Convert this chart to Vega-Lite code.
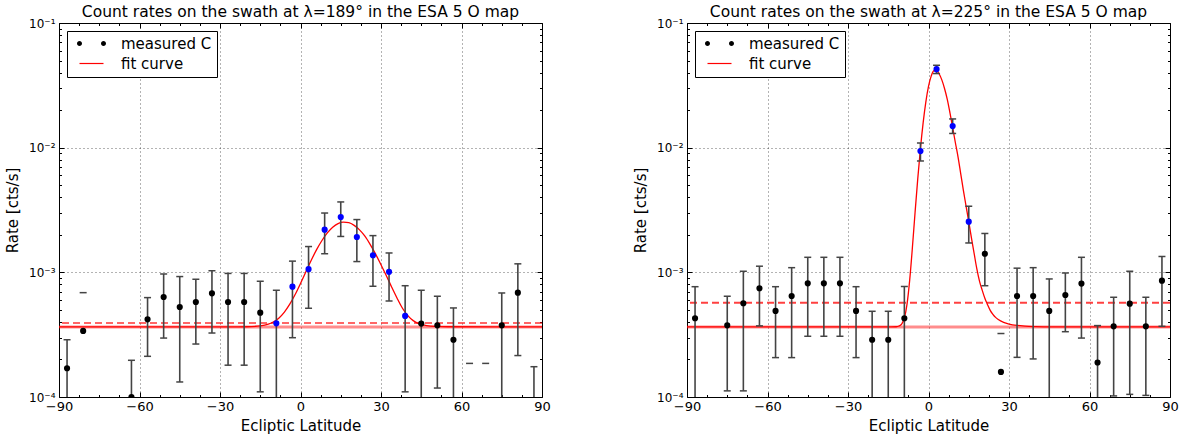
{
 "$schema": "https://vega.github.io/schema/vega-lite/v6.json",
 "background": "white",
 "padding": {"left": 5, "top": 4, "right": 5, "bottom": 5},
 "spacing": 82,
 "config": {
  "font": "DejaVu Sans",
  "view": {"stroke": "black", "strokeWidth": 1},
  "title": {"font": "DejaVu Sans", "fontSize": 15.5, "fontWeight": "normal", "color": "black", "offset": -3},
  "axis": {"labelFont": "DejaVu Sans", "titleFont": "DejaVu Sans", "labelColor": "black", "titleColor": "black", "titleFontWeight": "normal", "tickColor": "black"}
 },
 "resolve": {"scale": {"shape": "independent", "color": "independent", "fill": "independent", "stroke": "independent"}, "legend": {"shape": "independent", "color": "independent", "fill": "independent", "stroke": "independent"}},
 "datasets": {
  "levels": [
   {"panel": "L", "base": 0.000365, "dashed": 0.000393},
   {"panel": "R", "base": 0.000365, "dashed": 0.000571}
  ],
  "pts": [
   {"panel": "L", "lat": -87, "rate": 0.00017, "lo": 0.000052, "hi": 0.000288, "used": "no"},
   {"panel": "L", "lat": -81, "rate": 0.000339, "lo": null, "hi": 0.000687, "used": "no"},
   {"panel": "L", "lat": -63, "rate": 0.0001, "lo": 0.000003, "hi": 0.000197, "used": "no"},
   {"panel": "L", "lat": -57, "rate": 0.00042, "lo": 0.000212, "hi": 0.000627, "used": "no"},
   {"panel": "L", "lat": -51, "rate": 0.000634, "lo": 0.000297, "hi": 0.00097, "used": "no"},
   {"panel": "L", "lat": -45, "rate": 0.000527, "lo": 0.000132, "hi": 0.000925, "used": "no"},
   {"panel": "L", "lat": -39, "rate": 0.000578, "lo": 0.000266, "hi": 0.00088, "used": "no"},
   {"panel": "L", "lat": -33, "rate": 0.000679, "lo": 0.000326, "hi": 0.00103, "used": "no"},
   {"panel": "L", "lat": -27, "rate": 0.000578, "lo": 0.00018, "hi": 0.00098, "used": "no"},
   {"panel": "L", "lat": -21, "rate": 0.000578, "lo": 0.00018, "hi": 0.00098, "used": "no"},
   {"panel": "L", "lat": -15, "rate": 0.000475, "lo": 0.00011, "hi": 0.000848, "used": "no"},
   {"panel": "L", "lat": -9, "rate": 0.00039, "lo": 0.000062, "hi": 0.000718, "used": "yes"},
   {"panel": "L", "lat": -3, "rate": 0.000767, "lo": 0.000299, "hi": 0.00123, "used": "yes"},
   {"panel": "L", "lat": 3, "rate": 0.00106, "lo": 0.000515, "hi": 0.00161, "used": "yes"},
   {"panel": "L", "lat": 9, "rate": 0.0022, "lo": 0.00141, "hi": 0.00299, "used": "yes"},
   {"panel": "L", "lat": 15, "rate": 0.00278, "lo": 0.00194, "hi": 0.00367, "used": "yes"},
   {"panel": "L", "lat": 21, "rate": 0.00192, "lo": 0.00122, "hi": 0.00265, "used": "yes"},
   {"panel": "L", "lat": 27, "rate": 0.00137, "lo": 0.000773, "hi": 0.00197, "used": "yes"},
   {"panel": "L", "lat": 33, "rate": 0.00101, "lo": 0.000589, "hi": 0.00143, "used": "yes"},
   {"panel": "L", "lat": 39, "rate": 0.000447, "lo": 0.00011, "hi": 0.000781, "used": "yes"},
   {"panel": "L", "lat": 45, "rate": 0.000388, "lo": 0.000058, "hi": 0.000718, "used": "no"},
   {"panel": "L", "lat": 51, "rate": 0.000376, "lo": 0.000118, "hi": 0.000643, "used": "no"},
   {"panel": "L", "lat": 57, "rate": 0.000288, "lo": 0.000058, "hi": 0.000518, "used": "no"},
   {"panel": "L", "lat": 63, "rate": 0.00008, "lo": null, "hi": 0.000186, "used": "no"},
   {"panel": "L", "lat": 69, "rate": 0.00008, "lo": null, "hi": 0.000186, "used": "no"},
   {"panel": "L", "lat": 75, "rate": 0.000376, "lo": 0.000069, "hi": 0.000683, "used": "no"},
   {"panel": "L", "lat": 81, "rate": 0.000687, "lo": 0.000215, "hi": 0.00117, "used": "no"},
   {"panel": "L", "lat": 87, "rate": 0.000093, "lo": 0.000011, "hi": 0.000175, "used": "no"},
   {"panel": "R", "lat": -87, "rate": 0.000428, "lo": 0.000089, "hi": 0.000767, "used": "no"},
   {"panel": "R", "lat": -75, "rate": 0.000376, "lo": 0.000112, "hi": 0.000643, "used": "no"},
   {"panel": "R", "lat": -69, "rate": 0.000565, "lo": 0.000112, "hi": 0.00102, "used": "no"},
   {"panel": "R", "lat": -63, "rate": 0.000745, "lo": 0.000372, "hi": 0.00112, "used": "no"},
   {"panel": "R", "lat": -57, "rate": 0.00049, "lo": 0.000207, "hi": 0.000767, "used": "no"},
   {"panel": "R", "lat": -51, "rate": 0.000646, "lo": 0.000207, "hi": 0.00109, "used": "no"},
   {"panel": "R", "lat": -45, "rate": 0.000816, "lo": 0.000307, "hi": 0.00132, "used": "no"},
   {"panel": "R", "lat": -39, "rate": 0.000816, "lo": 0.000307, "hi": 0.00132, "used": "no"},
   {"panel": "R", "lat": -33, "rate": 0.000816, "lo": 0.000307, "hi": 0.00132, "used": "no"},
   {"panel": "R", "lat": -27, "rate": 0.00049, "lo": 0.000207, "hi": 0.000767, "used": "no"},
   {"panel": "R", "lat": -21, "rate": 0.000288, "lo": 0.000089, "hi": 0.000487, "used": "no"},
   {"panel": "R", "lat": -15, "rate": 0.000288, "lo": 0.000089, "hi": 0.000487, "used": "no"},
   {"panel": "R", "lat": -9, "rate": 0.000428, "lo": 0.000086, "hi": 0.00077, "used": "no"},
   {"panel": "R", "lat": -3, "rate": 0.00939, "lo": 0.00782, "hi": 0.0109, "used": "yes"},
   {"panel": "R", "lat": 3, "rate": 0.0426, "lo": 0.0393, "hi": 0.0458, "used": "yes"},
   {"panel": "R", "lat": 9, "rate": 0.0149, "lo": 0.013, "hi": 0.017, "used": "yes"},
   {"panel": "R", "lat": 15, "rate": 0.00255, "lo": 0.00172, "hi": 0.00339, "used": "yes"},
   {"panel": "R", "lat": 21, "rate": 0.00141, "lo": 0.000781, "hi": 0.00205, "used": "no"},
   {"panel": "R", "lat": 27, "rate": 0.000159, "lo": null, "hi": 0.000323, "used": "no"},
   {"panel": "R", "lat": 33, "rate": 0.000646, "lo": 0.000208, "hi": 0.00108, "used": "no"},
   {"panel": "R", "lat": 39, "rate": 0.000646, "lo": 0.000202, "hi": 0.00109, "used": "no"},
   {"panel": "R", "lat": 45, "rate": 0.00049, "lo": 0.000095, "hi": 0.000885, "used": "no"},
   {"panel": "R", "lat": 51, "rate": 0.000658, "lo": 0.000334, "hi": 0.000988, "used": "no"},
   {"panel": "R", "lat": 57, "rate": 0.000812, "lo": 0.000297, "hi": 0.00132, "used": "no"},
   {"panel": "R", "lat": 63, "rate": 0.000189, "lo": 0.000004, "hi": 0.000374, "used": "no"},
   {"panel": "R", "lat": 69, "rate": 0.000369, "lo": 0.000102, "hi": 0.000631, "used": "no"},
   {"panel": "R", "lat": 75, "rate": 0.000561, "lo": 0.000105, "hi": 0.00102, "used": "no"},
   {"panel": "R", "lat": 81, "rate": 0.000369, "lo": 0.000103, "hi": 0.000631, "used": "no"},
   {"panel": "R", "lat": 87, "rate": 0.000857, "lo": 0.000369, "hi": 0.00134, "used": "no"}
  ],
  "fit": [
   {"panel": "L", "lat": -90, "rate": 0.000365},
   {"panel": "L", "lat": -30, "rate": 0.000365},
   {"panel": "L", "lat": -20, "rate": 0.000366},
   {"panel": "L", "lat": -15, "rate": 0.000372},
   {"panel": "L", "lat": -12, "rate": 0.000384},
   {"panel": "L", "lat": -10, "rate": 0.000401},
   {"panel": "L", "lat": -8, "rate": 0.000431},
   {"panel": "L", "lat": -6, "rate": 0.00048},
   {"panel": "L", "lat": -4, "rate": 0.000555},
   {"panel": "L", "lat": -2, "rate": 0.000664},
   {"panel": "L", "lat": 0, "rate": 0.000815},
   {"panel": "L", "lat": 2, "rate": 0.00101},
   {"panel": "L", "lat": 4, "rate": 0.00125},
   {"panel": "L", "lat": 6, "rate": 0.00152},
   {"panel": "L", "lat": 8, "rate": 0.0018},
   {"panel": "L", "lat": 10, "rate": 0.00207},
   {"panel": "L", "lat": 12, "rate": 0.0023},
   {"panel": "L", "lat": 14, "rate": 0.00246},
   {"panel": "L", "lat": 16, "rate": 0.002525},
   {"panel": "L", "lat": 18, "rate": 0.0025},
   {"panel": "L", "lat": 20, "rate": 0.00238},
   {"panel": "L", "lat": 22, "rate": 0.00219},
   {"panel": "L", "lat": 24, "rate": 0.00195},
   {"panel": "L", "lat": 26, "rate": 0.00167},
   {"panel": "L", "lat": 28, "rate": 0.0014},
   {"panel": "L", "lat": 30, "rate": 0.00115},
   {"panel": "L", "lat": 32, "rate": 0.00094},
   {"panel": "L", "lat": 34, "rate": 0.00076},
   {"panel": "L", "lat": 36, "rate": 0.00062},
   {"panel": "L", "lat": 38, "rate": 0.000515},
   {"panel": "L", "lat": 40, "rate": 0.00045},
   {"panel": "L", "lat": 42, "rate": 0.00041},
   {"panel": "L", "lat": 44, "rate": 0.000388},
   {"panel": "L", "lat": 47, "rate": 0.000374},
   {"panel": "L", "lat": 50, "rate": 0.000368},
   {"panel": "L", "lat": 55, "rate": 0.000366},
   {"panel": "L", "lat": 90, "rate": 0.000365},
   {"panel": "R", "lat": -90, "rate": 0.000365},
   {"panel": "R", "lat": -14, "rate": 0.000365},
   {"panel": "R", "lat": -12, "rate": 0.000366},
   {"panel": "R", "lat": -11, "rate": 0.000371},
   {"panel": "R", "lat": -10, "rate": 0.000385},
   {"panel": "R", "lat": -9, "rate": 0.00043},
   {"panel": "R", "lat": -8, "rate": 0.000556},
   {"panel": "R", "lat": -7, "rate": 0.00087},
   {"panel": "R", "lat": -6, "rate": 0.00158},
   {"panel": "R", "lat": -5, "rate": 0.00303},
   {"panel": "R", "lat": -4, "rate": 0.00564},
   {"panel": "R", "lat": -3, "rate": 0.00984},
   {"panel": "R", "lat": -2, "rate": 0.0158},
   {"panel": "R", "lat": -1, "rate": 0.0232},
   {"panel": "R", "lat": 0, "rate": 0.031},
   {"panel": "R", "lat": 1, "rate": 0.0375},
   {"panel": "R", "lat": 2, "rate": 0.0414},
   {"panel": "R", "lat": 3, "rate": 0.0415},
   {"panel": "R", "lat": 4, "rate": 0.039},
   {"panel": "R", "lat": 5, "rate": 0.0348},
   {"panel": "R", "lat": 6, "rate": 0.0297},
   {"panel": "R", "lat": 7, "rate": 0.0244},
   {"panel": "R", "lat": 8, "rate": 0.019},
   {"panel": "R", "lat": 9, "rate": 0.0145},
   {"panel": "R", "lat": 10, "rate": 0.011},
   {"panel": "R", "lat": 11, "rate": 0.00845},
   {"panel": "R", "lat": 12, "rate": 0.0062},
   {"panel": "R", "lat": 13, "rate": 0.00454},
   {"panel": "R", "lat": 14, "rate": 0.0034},
   {"panel": "R", "lat": 15, "rate": 0.00255},
   {"panel": "R", "lat": 16, "rate": 0.00189},
   {"panel": "R", "lat": 17, "rate": 0.00142},
   {"panel": "R", "lat": 18, "rate": 0.00107},
   {"panel": "R", "lat": 19, "rate": 0.00085},
   {"panel": "R", "lat": 20, "rate": 0.00072},
   {"panel": "R", "lat": 21, "rate": 0.00062},
   {"panel": "R", "lat": 22, "rate": 0.00055},
   {"panel": "R", "lat": 23, "rate": 0.000495},
   {"panel": "R", "lat": 24, "rate": 0.00046},
   {"panel": "R", "lat": 25, "rate": 0.000435},
   {"panel": "R", "lat": 26, "rate": 0.000418},
   {"panel": "R", "lat": 28, "rate": 0.000397},
   {"panel": "R", "lat": 30, "rate": 0.000385},
   {"panel": "R", "lat": 33, "rate": 0.000375},
   {"panel": "R", "lat": 36, "rate": 0.00037},
   {"panel": "R", "lat": 40, "rate": 0.000367},
   {"panel": "R", "lat": 45, "rate": 0.000365},
   {"panel": "R", "lat": 90, "rate": 0.000365}
  ]
 },
 "hconcat": [
  {
   "width": 483, "height": 374,
   "title": {"text": "Count rates on the swath at λ=189° in the ESA 5 O map"},
   "resolve": {"axis": {"x": "independent", "y": "independent"}},
   "layer": [
    {"data": {"name": "levels"}, "transform": [{"filter": "datum.panel === 'L'"}],
     "mark": {"type": "rule", "color": "#ff0000", "opacity": 0.45, "strokeWidth": 3, "clip": true},
     "encoding": {"y": {"field": "base", "type": "quantitative", "scale": {"type": "log", "domain": [0.0001, 0.1], "nice": false}, "axis": null}}},
    {"data": {"name": "levels"}, "transform": [{"filter": "datum.panel === 'L'"}],
     "mark": {"type": "rule", "color": "#ff0000", "opacity": 0.6, "strokeWidth": 2, "strokeDash": [7, 4], "clip": true},
     "encoding": {"y": {"field": "dashed", "type": "quantitative", "scale": {"type": "log", "domain": [0.0001, 0.1], "nice": false}, "axis": null}}},
    {"data": {"name": "fit"}, "transform": [{"filter": "datum.panel === 'L'"}],
     "mark": {"type": "line", "color": "#ff0000", "strokeWidth": 1.3, "clip": true, "interpolate": "monotone"},
     "encoding": {
      "x": {"field": "lat", "type": "quantitative", "scale": {"domain": [-90, 90], "nice": false, "zero": false},
       "axis": {"orient": "top", "title": null, "labels": false, "domain": false, "grid": false,
        "values": [-90, -82.5, -75, -67.5, -60, -52.5, -45, -37.5, -30, -22.5, -15, -7.5, 0, 7.5, 15, 22.5, 30, 37.5, 45, 52.5, 60, 67.5, 75, 82.5, 90],
        "tickSize": {"condition": {"test": "datum.value % 30 === 0", "value": -5}, "value": -2.5}, "tickColor": "black"}},
      "y": {"field": "rate", "type": "quantitative", "scale": {"type": "log", "domain": [0.0001, 0.1], "nice": false},
       "axis": {"orient": "right", "title": null, "labels": false, "domain": false, "grid": false,
        "values": [0.0001, 0.0002, 0.0003, 0.0004, 0.0005, 0.0006, 0.0007, 0.0008, 0.0009, 0.001, 0.002, 0.003, 0.004, 0.005, 0.006, 0.007, 0.008, 0.009, 0.01, 0.02, 0.03, 0.04, 0.05, 0.06, 0.07, 0.08, 0.09, 0.1],
        "tickSize": {"condition": {"test": "abs(log(datum.value)/LN10 - round(log(datum.value)/LN10)) < 0.000001", "value": -5}, "value": -2.5}, "tickColor": "black"}}
     }},
    {"data": {"name": "pts"}, "transform": [{"filter": "datum.panel === 'L' && isValid(datum.lo)"}],
     "mark": {"type": "rule", "color": "#444444", "strokeWidth": 1.6, "clip": true},
     "encoding": {
      "x": {"field": "lat", "type": "quantitative", "scale": {"domain": [-90, 90], "nice": false, "zero": false}, "axis": null},
      "y": {"field": "lo", "type": "quantitative", "scale": {"type": "log", "domain": [0.0001, 0.1], "nice": false}, "axis": null},
      "y2": {"field": "hi"}}},
    {"data": {"name": "pts"}, "transform": [{"filter": "datum.panel === 'L'"}],
     "mark": {"type": "point", "shape": "stroke", "size": 49, "strokeWidth": 1.5, "color": "#444444", "opacity": 1, "clip": true},
     "encoding": {
      "x": {"field": "lat", "type": "quantitative", "scale": {"domain": [-90, 90], "nice": false, "zero": false}, "axis": null},
      "y": {"field": "hi", "type": "quantitative", "scale": {"type": "log", "domain": [0.0001, 0.1], "nice": false}, "axis": null}}},
    {"data": {"name": "pts"}, "transform": [{"filter": "datum.panel === 'L' && isValid(datum.lo)"}],
     "mark": {"type": "point", "shape": "stroke", "size": 49, "strokeWidth": 1.5, "color": "#444444", "opacity": 1, "clip": true},
     "encoding": {
      "x": {"field": "lat", "type": "quantitative", "scale": {"domain": [-90, 90], "nice": false, "zero": false}, "axis": null},
      "y": {"field": "lo", "type": "quantitative", "scale": {"type": "log", "domain": [0.0001, 0.1], "nice": false}, "axis": null}}},
    {"data": {"name": "pts"}, "transform": [{"filter": "datum.panel === 'L'"}],
     "mark": {"type": "circle", "size": 38, "opacity": 1, "clip": true},
     "encoding": {
      "x": {"field": "lat", "type": "quantitative", "scale": {"domain": [-90, 90], "nice": false, "zero": false},
       "axis": {"orient": "bottom", "title": "Ecliptic Latitude", "titleFontSize": 15, "titlePadding": 3, "domain": false,
        "values": [-90, -82.5, -75, -67.5, -60, -52.5, -45, -37.5, -30, -22.5, -15, -7.5, 0, 7.5, 15, 22.5, 30, 37.5, 45, 52.5, 60, 67.5, 75, 82.5, 90],
        "labelExpr": "datum.value % 30 === 0 ? datum.label : ''", "labelFontSize": 13, "labelPadding": 8, "labelOverlap": false, "labelFlush": false, "labelBound": false,
        "tickSize": {"condition": {"test": "datum.value % 30 === 0", "value": -5}, "value": -2.5}, "tickColor": "black",
        "grid": true, "gridColor": "black", "gridDash": [1, 3], "gridWidth": 1,
        "gridOpacity": {"condition": {"test": "datum.value % 30 === 0", "value": 0.6}, "value": 0}}},
      "y": {"field": "rate", "type": "quantitative", "scale": {"type": "log", "domain": [0.0001, 0.1], "nice": false},
       "axis": {"orient": "left", "title": "Rate [cts/s]", "titleFontSize": 15, "titlePadding": 8, "domain": false,
        "values": [0.0001, 0.0002, 0.0003, 0.0004, 0.0005, 0.0006, 0.0007, 0.0008, 0.0009, 0.001, 0.002, 0.003, 0.004, 0.005, 0.006, 0.007, 0.008, 0.009, 0.01, 0.02, 0.03, 0.04, 0.05, 0.06, 0.07, 0.08, 0.09, 0.1],
        "labelExpr": "abs(log(datum.value)/LN10 - round(log(datum.value)/LN10)) < 0.000001 ? '10⁻' + ['⁰','¹','²','³','⁴'][-round(log(datum.value)/LN10)] : ''",
        "labelFontSize": 12, "labelPadding": 9, "labelOverlap": false, "labelFlush": false, "labelBound": false,
        "tickSize": {"condition": {"test": "abs(log(datum.value)/LN10 - round(log(datum.value)/LN10)) < 0.000001", "value": -5}, "value": -2.5}, "tickColor": "black",
        "grid": true, "gridColor": "black", "gridDash": [1, 3], "gridWidth": 1,
        "gridOpacity": {"condition": {"test": "abs(log(datum.value)/LN10 - round(log(datum.value)/LN10)) < 0.000001", "value": 0.6}, "value": 0}}},
      "color": {"field": "used", "type": "nominal", "scale": {"domain": ["no", "yes"], "range": ["#000000", "#0000ff"]}, "legend": null}}},
    {"data": {"name": "pts"}, "transform": [{"filter": "false"}],
     "mark": {"type": "point", "clip": true, "opacity": 1, "strokeWidth": 1.2},
     "encoding": {
      "x": {"field": "lat", "type": "quantitative", "scale": {"domain": [-90, 90], "nice": false, "zero": false}, "axis": null},
      "y": {"field": "rate", "type": "quantitative", "scale": {"type": "log", "domain": [0.0001, 0.1], "nice": false}, "axis": null},
      "fill": {"field": "used", "type": "nominal", "scale": {"domain": ["measured C", "fit curve"], "range": ["#000000", "transparent"]}},
      "stroke": {"field": "used", "type": "nominal", "scale": {"domain": ["measured C", "fit curve"], "range": ["transparent", "#ff0000"]}},
      "shape": {"field": "used", "type": "nominal",
       "scale": {"domain": ["measured C", "fit curve"], "range": ["M-2.9,0A0.5,0.5,0,1,0,-1.9,0A0.5,0.5,0,1,0,-2.9,0ZM1.9,0A0.5,0.5,0,1,0,2.9,0A0.5,0.5,0,1,0,1.9,0Z", "M-2.4,0L2.4,0"]},
       "legend": {"title": null, "orient": "top-left", "offset": 8, "padding": 5, "strokeColor": "black", "fillColor": "white", "cornerRadius": 0,
        "symbolSize": 100, "symbolOffset": 12, "labelOffset": 22, "labelFontSize": 15, "labelFont": "DejaVu Sans", "labelColor": "black", "rowPadding": 4, "symbolOpacity": 1, "symbolStrokeWidth": 1.2}}}}
   ]
  },
  {
   "width": 483, "height": 374,
   "title": {"text": "Count rates on the swath at λ=225° in the ESA 5 O map"},
   "resolve": {"axis": {"x": "independent", "y": "independent"}},
   "layer": [
    {"data": {"name": "levels"}, "transform": [{"filter": "datum.panel === 'R'"}],
     "mark": {"type": "rule", "color": "#ff0000", "opacity": 0.45, "strokeWidth": 3, "clip": true},
     "encoding": {"y": {"field": "base", "type": "quantitative", "scale": {"type": "log", "domain": [0.0001, 0.1], "nice": false}, "axis": null}}},
    {"data": {"name": "levels"}, "transform": [{"filter": "datum.panel === 'R'"}],
     "mark": {"type": "rule", "color": "#ff0000", "opacity": 0.75, "strokeWidth": 2, "strokeDash": [7, 4], "clip": true},
     "encoding": {"y": {"field": "dashed", "type": "quantitative", "scale": {"type": "log", "domain": [0.0001, 0.1], "nice": false}, "axis": null}}},
    {"data": {"name": "fit"}, "transform": [{"filter": "datum.panel === 'R'"}],
     "mark": {"type": "line", "color": "#ff0000", "strokeWidth": 1.3, "clip": true, "interpolate": "monotone"},
     "encoding": {
      "x": {"field": "lat", "type": "quantitative", "scale": {"domain": [-90, 90], "nice": false, "zero": false},
       "axis": {"orient": "top", "title": null, "labels": false, "domain": false, "grid": false,
        "values": [-90, -82.5, -75, -67.5, -60, -52.5, -45, -37.5, -30, -22.5, -15, -7.5, 0, 7.5, 15, 22.5, 30, 37.5, 45, 52.5, 60, 67.5, 75, 82.5, 90],
        "tickSize": {"condition": {"test": "datum.value % 30 === 0", "value": -5}, "value": -2.5}, "tickColor": "black"}},
      "y": {"field": "rate", "type": "quantitative", "scale": {"type": "log", "domain": [0.0001, 0.1], "nice": false},
       "axis": {"orient": "right", "title": null, "labels": false, "domain": false, "grid": false,
        "values": [0.0001, 0.0002, 0.0003, 0.0004, 0.0005, 0.0006, 0.0007, 0.0008, 0.0009, 0.001, 0.002, 0.003, 0.004, 0.005, 0.006, 0.007, 0.008, 0.009, 0.01, 0.02, 0.03, 0.04, 0.05, 0.06, 0.07, 0.08, 0.09, 0.1],
        "tickSize": {"condition": {"test": "abs(log(datum.value)/LN10 - round(log(datum.value)/LN10)) < 0.000001", "value": -5}, "value": -2.5}, "tickColor": "black"}}
     }},
    {"data": {"name": "pts"}, "transform": [{"filter": "datum.panel === 'R' && isValid(datum.lo)"}],
     "mark": {"type": "rule", "color": "#444444", "strokeWidth": 1.6, "clip": true},
     "encoding": {
      "x": {"field": "lat", "type": "quantitative", "scale": {"domain": [-90, 90], "nice": false, "zero": false}, "axis": null},
      "y": {"field": "lo", "type": "quantitative", "scale": {"type": "log", "domain": [0.0001, 0.1], "nice": false}, "axis": null},
      "y2": {"field": "hi"}}},
    {"data": {"name": "pts"}, "transform": [{"filter": "datum.panel === 'R'"}],
     "mark": {"type": "point", "shape": "stroke", "size": 49, "strokeWidth": 1.5, "color": "#444444", "opacity": 1, "clip": true},
     "encoding": {
      "x": {"field": "lat", "type": "quantitative", "scale": {"domain": [-90, 90], "nice": false, "zero": false}, "axis": null},
      "y": {"field": "hi", "type": "quantitative", "scale": {"type": "log", "domain": [0.0001, 0.1], "nice": false}, "axis": null}}},
    {"data": {"name": "pts"}, "transform": [{"filter": "datum.panel === 'R' && isValid(datum.lo)"}],
     "mark": {"type": "point", "shape": "stroke", "size": 49, "strokeWidth": 1.5, "color": "#444444", "opacity": 1, "clip": true},
     "encoding": {
      "x": {"field": "lat", "type": "quantitative", "scale": {"domain": [-90, 90], "nice": false, "zero": false}, "axis": null},
      "y": {"field": "lo", "type": "quantitative", "scale": {"type": "log", "domain": [0.0001, 0.1], "nice": false}, "axis": null}}},
    {"data": {"name": "pts"}, "transform": [{"filter": "datum.panel === 'R'"}],
     "mark": {"type": "circle", "size": 38, "opacity": 1, "clip": true},
     "encoding": {
      "x": {"field": "lat", "type": "quantitative", "scale": {"domain": [-90, 90], "nice": false, "zero": false},
       "axis": {"orient": "bottom", "title": "Ecliptic Latitude", "titleFontSize": 15, "titlePadding": 3, "domain": false,
        "values": [-90, -82.5, -75, -67.5, -60, -52.5, -45, -37.5, -30, -22.5, -15, -7.5, 0, 7.5, 15, 22.5, 30, 37.5, 45, 52.5, 60, 67.5, 75, 82.5, 90],
        "labelExpr": "datum.value % 30 === 0 ? datum.label : ''", "labelFontSize": 13, "labelPadding": 8, "labelOverlap": false, "labelFlush": false, "labelBound": false,
        "tickSize": {"condition": {"test": "datum.value % 30 === 0", "value": -5}, "value": -2.5}, "tickColor": "black",
        "grid": true, "gridColor": "black", "gridDash": [1, 3], "gridWidth": 1,
        "gridOpacity": {"condition": {"test": "datum.value % 30 === 0", "value": 0.6}, "value": 0}}},
      "y": {"field": "rate", "type": "quantitative", "scale": {"type": "log", "domain": [0.0001, 0.1], "nice": false},
       "axis": {"orient": "left", "title": "Rate [cts/s]", "titleFontSize": 15, "titlePadding": 8, "domain": false,
        "values": [0.0001, 0.0002, 0.0003, 0.0004, 0.0005, 0.0006, 0.0007, 0.0008, 0.0009, 0.001, 0.002, 0.003, 0.004, 0.005, 0.006, 0.007, 0.008, 0.009, 0.01, 0.02, 0.03, 0.04, 0.05, 0.06, 0.07, 0.08, 0.09, 0.1],
        "labelExpr": "abs(log(datum.value)/LN10 - round(log(datum.value)/LN10)) < 0.000001 ? '10⁻' + ['⁰','¹','²','³','⁴'][-round(log(datum.value)/LN10)] : ''",
        "labelFontSize": 12, "labelPadding": 9, "labelOverlap": false, "labelFlush": false, "labelBound": false,
        "tickSize": {"condition": {"test": "abs(log(datum.value)/LN10 - round(log(datum.value)/LN10)) < 0.000001", "value": -5}, "value": -2.5}, "tickColor": "black",
        "grid": true, "gridColor": "black", "gridDash": [1, 3], "gridWidth": 1,
        "gridOpacity": {"condition": {"test": "abs(log(datum.value)/LN10 - round(log(datum.value)/LN10)) < 0.000001", "value": 0.6}, "value": 0}}},
      "color": {"field": "used", "type": "nominal", "scale": {"domain": ["no", "yes"], "range": ["#000000", "#0000ff"]}, "legend": null}}},
    {"data": {"name": "pts"}, "transform": [{"filter": "false"}],
     "mark": {"type": "point", "clip": true, "opacity": 1, "strokeWidth": 1.2},
     "encoding": {
      "x": {"field": "lat", "type": "quantitative", "scale": {"domain": [-90, 90], "nice": false, "zero": false}, "axis": null},
      "y": {"field": "rate", "type": "quantitative", "scale": {"type": "log", "domain": [0.0001, 0.1], "nice": false}, "axis": null},
      "fill": {"field": "used", "type": "nominal", "scale": {"domain": ["measured C", "fit curve"], "range": ["#000000", "transparent"]}},
      "stroke": {"field": "used", "type": "nominal", "scale": {"domain": ["measured C", "fit curve"], "range": ["transparent", "#ff0000"]}},
      "shape": {"field": "used", "type": "nominal",
       "scale": {"domain": ["measured C", "fit curve"], "range": ["M-2.9,0A0.5,0.5,0,1,0,-1.9,0A0.5,0.5,0,1,0,-2.9,0ZM1.9,0A0.5,0.5,0,1,0,2.9,0A0.5,0.5,0,1,0,1.9,0Z", "M-2.4,0L2.4,0"]},
       "legend": {"title": null, "orient": "top-left", "offset": 8, "padding": 5, "strokeColor": "black", "fillColor": "white", "cornerRadius": 0,
        "symbolSize": 100, "symbolOffset": 12, "labelOffset": 22, "labelFontSize": 15, "labelFont": "DejaVu Sans", "labelColor": "black", "rowPadding": 4, "symbolOpacity": 1, "symbolStrokeWidth": 1.2}}}}
   ]
  }
 ]
}
